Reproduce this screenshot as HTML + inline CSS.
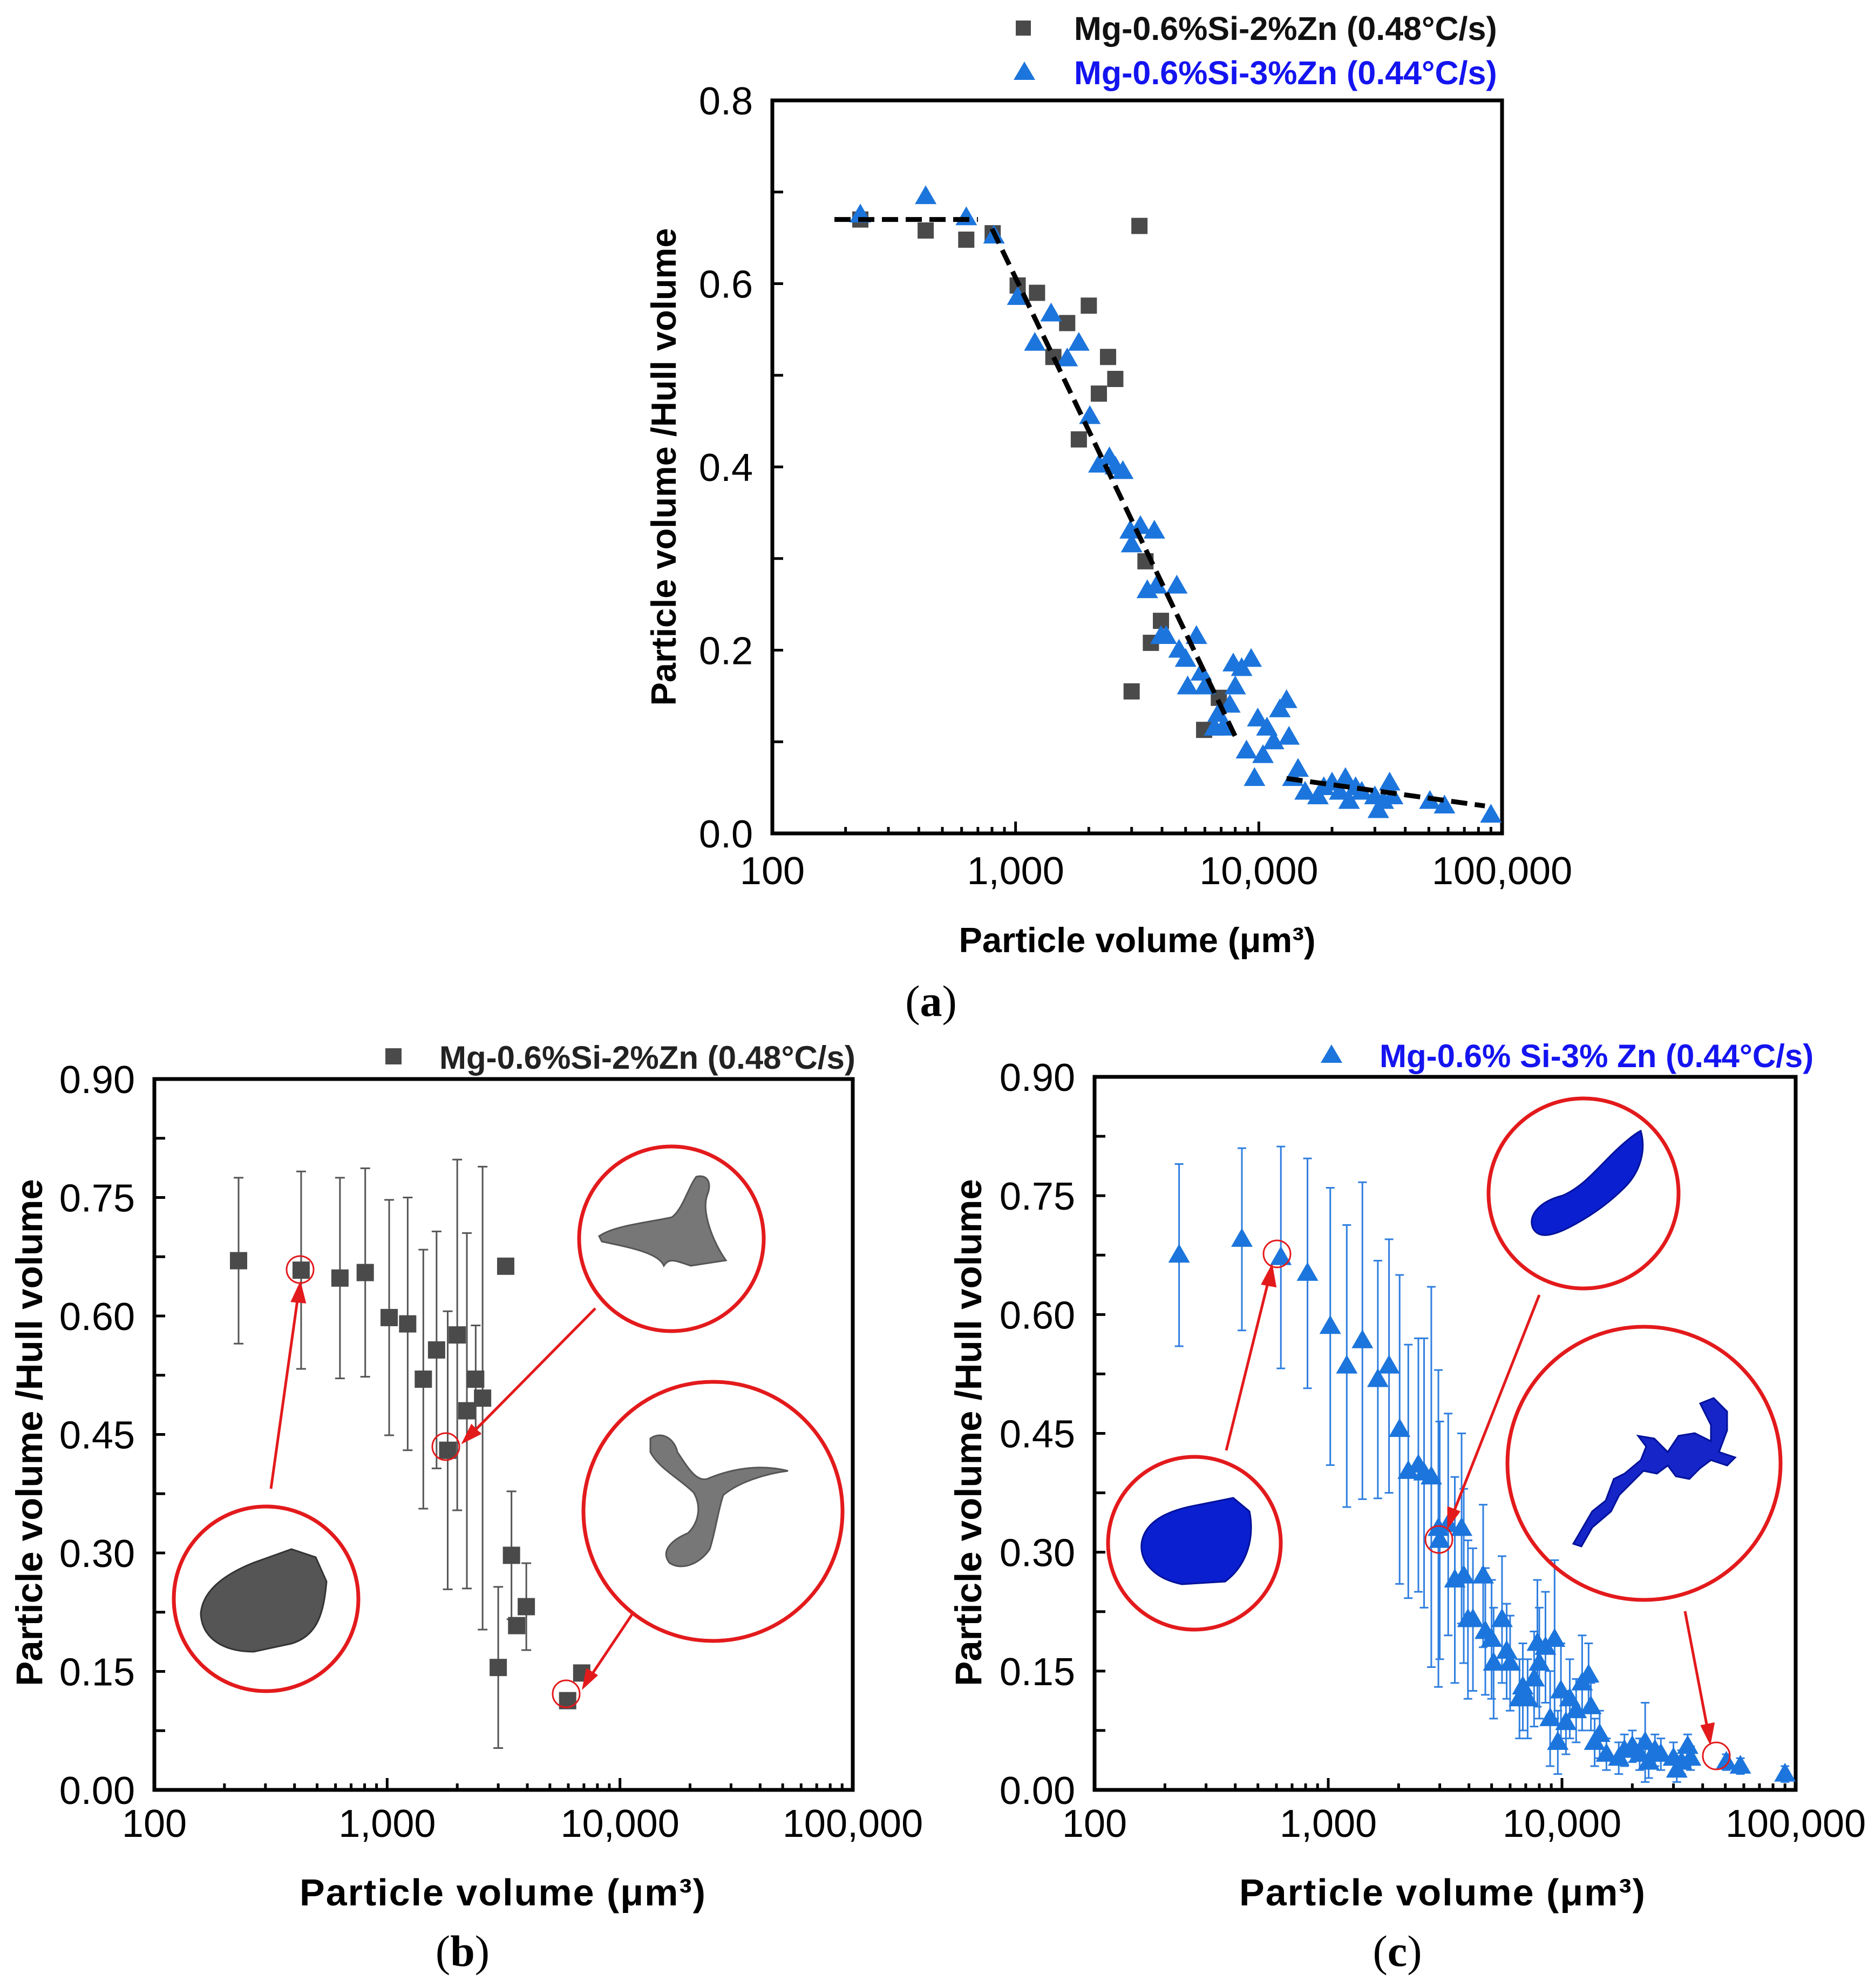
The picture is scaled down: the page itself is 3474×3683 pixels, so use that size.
<!DOCTYPE html>
<html><head><meta charset="utf-8">
<style>
body{margin:0;background:#fff;}
svg{display:block;font-family:"Liberation Sans",Arial,sans-serif;}
</style></head>
<body>
<svg id="fig" xmlns="http://www.w3.org/2000/svg" width="3474" height="3683" viewBox="0 0 3474 3683">
<rect width="3474" height="3683" fill="#fff"/>
<g id="pa"></g>
<g id="pb"></g>
<g id="pc"></g>
<g id="insets">
  <circle cx="493" cy="2962" r="171" fill="none" stroke="#e31a1c" stroke-width="7"/>
  <path d="M372,2990 C375,2945 420,2915 470,2895 L540,2870 L585,2885 L605,2930 C600,2985 590,3030 540,3045 L470,3060 C420,3060 375,3040 372,2990 Z" fill="#555" stroke="#333" stroke-width="3"/>
  <circle cx="1244" cy="2295" r="171" fill="none" stroke="#e31a1c" stroke-width="7"/>
  <path d="M1110,2290 C1140,2270 1200,2265 1245,2255 C1265,2240 1275,2200 1290,2180 C1310,2175 1320,2190 1310,2215 C1300,2245 1320,2300 1345,2335 L1280,2345 C1250,2335 1240,2330 1230,2345 C1220,2320 1160,2310 1115,2300 Z" fill="#777" stroke="#555" stroke-width="3"/>
  <circle cx="1321" cy="2800" r="240" fill="none" stroke="#e31a1c" stroke-width="7"/>
  <path d="M1205,2665 C1225,2650 1250,2665 1255,2690 C1275,2720 1290,2745 1310,2740 C1345,2725 1400,2710 1460,2725 C1420,2730 1370,2745 1340,2770 C1330,2800 1325,2840 1315,2870 C1295,2900 1260,2910 1240,2895 C1225,2875 1240,2855 1275,2840 C1295,2820 1300,2790 1285,2765 C1260,2740 1220,2720 1205,2690 Z" fill="#777" stroke="#555" stroke-width="3"/>
  <circle cx="556" cy="2352" r="25" fill="none" stroke="#e31a1c" stroke-width="3"/>
  <circle cx="826" cy="2680" r="25" fill="none" stroke="#e31a1c" stroke-width="3"/>
  <circle cx="1049" cy="3138" r="25" fill="none" stroke="#e31a1c" stroke-width="3"/>
  <g stroke="#e31a1c" stroke-width="5" fill="#e31a1c">
    <line x1="502" y1="2758" x2="553" y2="2395"/><polygon points="556,2380 542,2410 564,2412"/>
    <line x1="1103" y1="2424" x2="870" y2="2660"/><polygon points="860,2670 874,2642 888,2656"/>
    <line x1="1173" y1="2988" x2="1090" y2="3112"/><polygon points="1082,3124 1088,3094 1104,3104"/>
  </g>
  <circle cx="2213" cy="2859" r="160" fill="none" stroke="#e31a1c" stroke-width="7"/>
  <path d="M2115,2860 C2120,2820 2160,2800 2210,2790 L2285,2775 L2315,2800 C2325,2850 2310,2900 2270,2930 L2190,2935 C2140,2925 2112,2895 2115,2860 Z" fill="#0a1fcf" stroke="#001199" stroke-width="3"/>
  <circle cx="2934" cy="2211" r="176" fill="none" stroke="#e31a1c" stroke-width="7"/>
  <path d="M2840,2275 C2830,2250 2855,2225 2895,2215 C2930,2200 2955,2170 2985,2140 C3010,2115 3030,2100 3040,2095 C3050,2130 3040,2170 3010,2200 C2980,2230 2945,2255 2905,2275 C2875,2290 2850,2295 2840,2275 Z" fill="#0a1fcf" stroke="#001199" stroke-width="3"/>
  <circle cx="3046" cy="2711" r="253" fill="none" stroke="#e31a1c" stroke-width="7"/>
  <path d="M2915,2860 L2950,2800 L2975,2780 L2990,2740 L3010,2730 L3040,2705 L3050,2680 L3035,2660 L3065,2665 L3090,2690 L3110,2660 L3140,2655 L3170,2670 L3170,2640 L3150,2600 L3175,2590 L3200,2615 L3200,2650 L3185,2690 L3215,2700 L3200,2715 L3170,2705 L3150,2720 L3130,2740 L3105,2735 L3090,2715 L3070,2730 L3045,2725 L3020,2750 L3000,2770 L2985,2800 L2950,2830 L2930,2865 Z" fill="#1525c8" stroke="#001199" stroke-width="3"/>
  <circle cx="2366" cy="2323" r="25" fill="none" stroke="#e31a1c" stroke-width="3"/>
  <circle cx="2666" cy="2852" r="25" fill="none" stroke="#e31a1c" stroke-width="3"/>
  <circle cx="3180" cy="3253" r="25" fill="none" stroke="#e31a1c" stroke-width="3"/>
  <g stroke="#e31a1c" stroke-width="5" fill="#e31a1c">
    <line x1="2272" y1="2687" x2="2352" y2="2365"/><polygon points="2356,2348 2340,2378 2362,2382"/>
    <line x1="2852" y1="2399" x2="2690" y2="2810"/><polygon points="2684,2826 2684,2794 2702,2801"/>
    <line x1="3122" y1="2985" x2="3165" y2="3210"/><polygon points="3168,3226 3154,3198 3174,3194"/>
  </g>
</g>
</svg>
<script>
const xTickValues = [100, 1000, 10000, 100000];
const xTickLabels = ["100", "1,000", "10,000", "100,000"];
const yTicksA = [0, 0.2, 0.4, 0.6, 0.8];
const yTickLabelsA = ["0.0", "0.2", "0.4", "0.6", "0.8"];
const yTicksBC = [0, 0.15, 0.30, 0.45, 0.60, 0.75, 0.90];
const yTickLabelsBC = ["0.00", "0.15", "0.30", "0.45", "0.60", "0.75", "0.90"];

const sqX = [230, 427, 627, 805, 1020, 1225, 1430, 1630, 2000, 1820, 2200, 2400, 2570, 3230, 3000, 3420, 3600, 3960, 5960, 6850];
const sqY = [0.670, 0.658, 0.648, 0.655, 0.598, 0.590, 0.520, 0.557, 0.576, 0.430, 0.480, 0.520, 0.496, 0.663, 0.155, 0.297, 0.208, 0.232, 0.113, 0.148];
const sqErr = [0.105, 0.125, 0.127, 0.132, 0.149, 0.160, 0.164, 0.150, 0.222, 0.176, 0.225, 0.068, 0.293, 0, 0.102, 0.081, 0, 0.055, 0, 0];

const triX = [230, 427, 627, 815, 1020, 1200, 1400, 1630, 1820, 2020, 2200, 2430, 2570, 2760, 2960, 3000, 3260, 3480, 3720, 3800, 3960, 4160, 4600, 4700, 5000, 5100, 5540, 5800, 6000, 6580, 6800, 7130, 7600, 7850, 8000, 8500, 8900, 9300, 9600, 9900, 10400, 10800, 11500, 12200, 13000, 13300, 13800, 14500, 15500, 17500, 18500, 20000, 21500, 22700, 23500, 25000, 26500, 30000, 31000, 32500, 34500, 35500, 50500, 58000, 90000];
const triY = [0.675, 0.695, 0.672, 0.652, 0.585, 0.535, 0.567, 0.518, 0.535, 0.455, 0.402, 0.410, 0.400, 0.395, 0.330, 0.315, 0.335, 0.265, 0.330, 0.270, 0.215, 0.215, 0.270, 0.200, 0.190, 0.160, 0.215, 0.175, 0.160, 0.115, 0.130, 0.115, 0.140, 0.185, 0.160, 0.180, 0.090, 0.190, 0.060, 0.125, 0.085, 0.115, 0.100, 0.135, 0.145, 0.105, 0.060, 0.070, 0.045, 0.040, 0.050, 0.055, 0.045, 0.060, 0.035, 0.050, 0.045, 0.040, 0.025, 0.035, 0.055, 0.040, 0.035, 0.030, 0.020];
const triErr = [0.115, 0.115, 0.140, 0.145, 0.175, 0.178, 0.200, 0.150, 0.160, 0.195, 0.160, 0.160, 0.170, 0.240, 0.200, 0.150, 0.140, 0.130, 0.120, 0.110, 0.100, 0.090, 0.090, 0.080, 0.075, 0.070, 0.080, 0.060, 0.060, 0.050, 0.055, 0.050, 0.060, 0.080, 0.070, 0.070, 0.060, 0.100, 0.040, 0.060, 0.040, 0.050, 0.040, 0.060, 0.040, 0.030, 0.030, 0.030, 0.020, 0.020, 0.020, 0.020, 0.020, 0.050, 0.020, 0.020, 0.020, 0.020, 0.015, 0.015, 0.015, 0.015, 0.010, 0.010, 0.010];

const fitX1 = [180, 700];   const fitY1 = [0.670, 0.670];
const fitX2 = [800, 8200];  const fitY2 = [0.660, 0.100];
const fitX3 = [13000, 85000]; const fitY3 = [0.060, 0.030];

const NS = "http://www.w3.org/2000/svg";
function mk(parent, tag, attrs, txt) {
  const e = document.createElementNS(NS, tag);
  for (const k in attrs) e.setAttribute(k, attrs[k]);
  if (txt !== undefined) e.textContent = txt;
  parent.appendChild(e);
  return e;
}
function makeScales(L, R, T, B, yMax) {
  const sx = v => L + (Math.log10(v) - 2) / 3 * (R - L);
  const sy = v => B - v / yMax * (B - T);
  return {sx, sy};
}
function drawAxes(g, L, R, T, B, yMax, yTicks, yLabels, fs, yMinorStep, xLabelY, yLabelRight) {
  const s = makeScales(L, R, T, B, yMax);
  const fr = mk(g, "rect", {x: L, y: T, width: R - L, height: B - T, fill: "none", stroke: "#000", "stroke-width": 7});
  
  
  const ax = mk(g, "g", {stroke: "#000", "stroke-width": 5});
  
  
  for (let d = 100; d <= 100000; d *= 10) {
    mk(ax, "line", {x1: s.sx(d), x2: s.sx(d), y1: B, y2: B - 22});
    if (d < 100000) for (let m = 2; m <= 9; m++) mk(ax, "line", {x1: s.sx(d * m), x2: s.sx(d * m), y1: B, y2: B - 12});
  }
  for (let v = 0; v <= yMax + 1e-9; v += yMinorStep) {
    mk(ax, "line", {x1: L, x2: L + 20, y1: s.sy(v), y2: s.sy(v)});
  }
  xTickValues.forEach((v, i) => {
    const t = mk(g, "text", {x: s.sx(v), y: xLabelY, "font-size": fs, "text-anchor": "middle"}, xTickLabels[i]);
    
    
  });
  yTicks.forEach((v, i) => {
    const t = mk(g, "text", {x: yLabelRight, y: s.sy(v) + fs * 0.36, "font-size": fs, "text-anchor": "end"}, yLabels[i]);
    
    
  });
  return s;
}
function drawSquares(g, s, xs, ys, errs, size) {
  const gg = mk(g, "g", {});
  
  
  xs.forEach((x, i) => {
    if (errs && errs[i] > 0) {
      const cx = s.sx(x), y1 = s.sy(ys[i] + errs[i]), y2 = s.sy(ys[i] - errs[i]);
      const eb = mk(gg, "path", {d: `M${cx},${y1}V${y2}M${cx-9},${y1}H${cx+9}M${cx-9},${y2}H${cx+9}`, stroke: "#555", "stroke-width": 3, fill: "none"});
      
      
    }
  });
  xs.forEach((x, i) => {
    const r = mk(gg, "rect", {x: s.sx(x) - size / 2, y: s.sy(ys[i]) - size / 2, width: size, height: size, fill: "#4a4a4a"});
    
    
  });
}
function drawTriangles(g, s, xs, ys, errs, size) {
  const gg = mk(g, "g", {});
  
  
  xs.forEach((x, i) => {
    if (errs && errs[i] > 0) {
      const cx = s.sx(x), y1 = s.sy(ys[i] + errs[i]), y2 = s.sy(Math.max(0, ys[i] - errs[i]));
      const eb = mk(gg, "path", {d: `M${cx},${y1}V${y2}M${cx-8},${y1}H${cx+8}M${cx-8},${y2}H${cx+8}`, stroke: "#2f7fe0", "stroke-width": 3, fill: "none"});
      
      
    }
  });
  xs.forEach((x, i) => {
    const cx = s.sx(x), cy = s.sy(ys[i]), h = size * 0.87;
    const p = mk(gg, "polygon", {points: `${cx},${cy - h * 0.6} ${cx - size / 2},${cy + h * 0.4} ${cx + size / 2},${cy + h * 0.4}`, fill: "#1c75dc"});
    
    
  });
}
function label(g, attrs, txt, name) {
  const t = mk(g, "text", attrs, txt);
  
  
  return t;
}
function caption(g, x, y, letter, name) {
  const t = mk(g, "text", {x: x, y: y, "font-size": 82, "font-family": "Liberation Serif, serif", "text-anchor": "middle"});
  
  
  mk(t, "tspan", {}, "(");
  mk(t, "tspan", {"font-weight": "bold"}, letter);
  mk(t, "tspan", {}, ")");
}

// ---- Panel a ----
(function () {
  const g = document.getElementById("pa");
  const s = drawAxes(g, 1431, 2783, 186, 1544, 0.8, yTicksA, yTickLabelsA, 72, 0.1, 1638, 1395);
  drawSquares(g, s, sqX, sqY, null, 30);
  drawTriangles(g, s, triX, triY, null, 40);
  [[fitX1, fitY1], [fitX2, fitY2], [fitX3, fitY3]].forEach(([fx, fy]) => {
    const l = mk(g, "line", {x1: s.sx(fx[0]), y1: s.sy(fy[0]), x2: s.sx(fx[1]), y2: s.sy(fy[1]), stroke: "#000", "stroke-width": 9, "stroke-dasharray": "30,14"});
    
    
  });
  const lg = mk(g, "g", {});
  
  
  const ls = mk(lg, "rect", {x: 1882, y: 38, width: 28, height: 28, fill: "#4a4a4a"});
  
  
  label(lg, {x: 1990, y: 74, "font-size": 61, "font-weight": "bold", fill: "#111"}, "Mg-0.6%Si-2%Zn (0.48°C/s)", "legend-label-2zn");
  const lt = mk(lg, "polygon", {points: "1898,114 1878,148 1918,148", fill: "#1c75dc"});
  
  
  label(lg, {x: 1990, y: 156, "font-size": 61, "font-weight": "bold", fill: "#1414f0"}, "Mg-0.6%Si-3%Zn (0.44°C/s)", "legend-label-3zn");
  label(g, {x: 2107, y: 1764, "font-size": 65, "font-weight": "bold", "text-anchor": "middle"}, "Particle volume (μm³)", "x-axis-title");
  label(g, {x: 1252, y: 865, "font-size": 65, "font-weight": "bold", "text-anchor": "middle", transform: "rotate(-90 1252 865)"}, "Particle volume /Hull volume", "y-axis-title");
  caption(g, 1725, 1882, "a", "caption-a");
})();

// ---- Panel b ----
(function () {
  const g = document.getElementById("pb");
  const s = drawAxes(g, 286, 1580, 1999, 3316, 0.9, yTicksBC, yTickLabelsBC, 72, 0.075, 3403, 250);
  drawSquares(g, s, sqX, sqY, sqErr, 32);
  const ls = mk(g, "rect", {x: 714, y: 1942, width: 30, height: 30, fill: "#4a4a4a"});
  
  
  label(g, {x: 814, y: 1980, "font-size": 60, "font-weight": "bold", fill: "#222"}, "Mg-0.6%Si-2%Zn (0.48°C/s)", "legend-label-2zn");
  label(g, {x: 932, y: 3530, "font-size": 70, "font-weight": "bold", "text-anchor": "middle", "letter-spacing": "2"}, "Particle volume (μm³)", "x-axis-title");
  label(g, {x: 78, y: 2654, "font-size": 69, "font-weight": "bold", "text-anchor": "middle", transform: "rotate(-90 78 2654)"}, "Particle volume /Hull volume", "y-axis-title");
  caption(g, 857, 3642, "b", "caption-b");
})();

// ---- Panel c ----
(function () {
  const g = document.getElementById("pc");
  const s = drawAxes(g, 2028, 3327, 1995, 3316, 0.9, yTicksBC, yTickLabelsBC, 72, 0.075, 3403, 1992);
  drawTriangles(g, s, triX, triY, triErr, 40);
  const lt = mk(g, "polygon", {points: "2467,1935 2447,1969 2487,1969", fill: "#1c75dc"});
  
  
  label(g, {x: 2556, y: 1977, "font-size": 60, "font-weight": "bold", fill: "#1414f0"}, "Mg-0.6% Si-3% Zn (0.44°C/s)", "legend-label-3zn");
  label(g, {x: 2673, y: 3530, "font-size": 70, "font-weight": "bold", "text-anchor": "middle", "letter-spacing": "2"}, "Particle volume (μm³)", "x-axis-title");
  label(g, {x: 1818, y: 2654, "font-size": 69, "font-weight": "bold", "text-anchor": "middle", transform: "rotate(-90 1818 2654)"}, "Particle volume /Hull volume", "y-axis-title");
  caption(g, 2589, 3642, "c", "caption-c");
})();
document.getElementById("fig").appendChild(document.getElementById("insets"));
</script>
</body></html>
